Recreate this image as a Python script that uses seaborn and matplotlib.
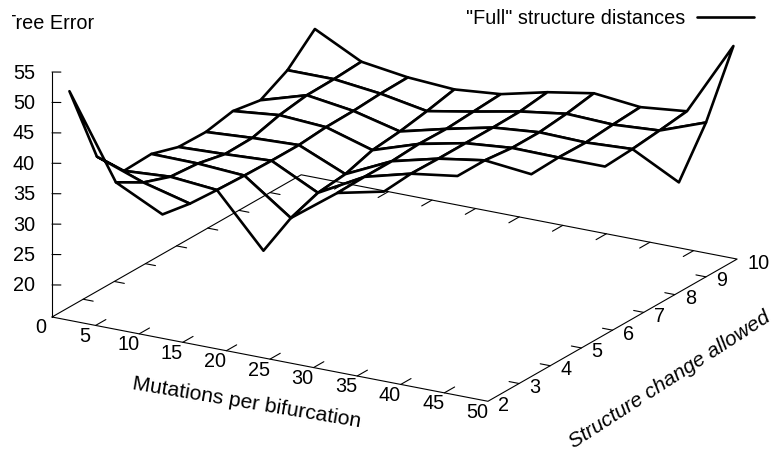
import numpy as np
import matplotlib
matplotlib.use("Agg")
import matplotlib.pyplot as plt
import seaborn as sns
from matplotlib.lines import Line2D
from matplotlib.transforms import Bbox
from mpl_toolkits.mplot3d import proj3d
from mpl_toolkits.mplot3d.art3d import Poly3DCollection

n = np.nan

# grid of the surface
mutations = [2.0, 7.33, 12.67, 18.0, 23.33, 28.67, 34.0, 39.33, 44.67, 50.0]
structure = [2.0, 2.88, 3.75, 4.63, 5.5, 6.38, 7.25, 8.13, 9.0, 9.88]

# tree error, one row per structure value
err_0 = [52.4, 38.9, 35.1, n, n, n, n, n, n, n]
err_1 = [39.1, 36.3, 34.3, n, n, n, n, n, n, n]
err_2 = [34.2, 34.7, 34.0, 25.5, n, n, n, n, n, n]
err_3 = [34.4, 34.3, 33.8, 28.3, 33.9, 35.6, n, n, n, n]
err_4 = [33.0, 33.3, 33.7, 29.9, 34.0, 36.0, 37.1, n, n, n]
err_5 = [32.9, 33.4, 33.7, 30.4, 34.0, 35.9, 37.1, 36.3, n, n]
err_6 = [33.8, 34.6, 34.1, 31.8, 34.3, 35.9, 36.6, 36.5, 36.5, n]
err_7 = [33.0, 35.3, 34.2, 32.3, 34.2, 35.9, 36.6, 36.4, 36.8, 32.8]
err_8 = [35.4, 35.4, 34.5, 33.1, 34.5, 36.0, 37.1, 36.8, 37.3, 40.1]
err_9 = [39.6, 35.7, 34.6, 34.1, 34.8, 36.6, 37.9, 37.1, 37.9, 50.1]

x_ticks = [0, 5, 10, 15, 20, 25, 30, 35, 40, 45, 50]
y_ticks = [2, 3, 4, 5, 6, 7, 8, 9, 10]
z_ticks = [20, 25, 30, 35, 40, 45, 50, 55]

sns.set_theme(style="white", rc={"font.family": "Liberation Sans", "text.color": "black"})

W, H = 774, 456
fs = 14.3
z_base = 14.73

fig = plt.figure(figsize=(W / 100, H / 100), dpi=100)
ax = fig.add_axes([0, 0, 1, 1], projection="3d", proj_type="ortho", computed_zorder=False)
ax.set_axis_off()
ax.view_init(elev=19.4, azim=-59.8)
ax.set_xlim(0, 50, view_margin=0)
ax.set_ylim(2, 10, view_margin=0)
ax.set_zlim(z_base, 55, view_margin=0)
aspect = (503, 494, 259)


def screen(x, y, z):
    xp, yp, _ = proj3d.proj_transform(x, y, z, ax.get_proj())
    return ax.transData.transform((xp, yp))


# fit the box onto the canvas
ax.set_box_aspect(aspect)
fig.canvas.draw()
a = screen(0, 2, z_base)
b = screen(50, 2, z_base)
ax.set_box_aspect(aspect, zoom=np.hypot(436, 84) / np.hypot(*(b - a)))
fig.canvas.draw()
a = screen(0, 2, z_base)
ax.set_position([(52 - a[0]) / W, (H - 318 - a[1]) / H, 1, 1])
fig.canvas.draw()


def line(xs, ys, zs):
    # base shows through the surface cells in the reference, so it goes on top
    ax.plot(xs, ys, zs, color="black", lw=0.8, clip_on=False, zorder=3)


def label(x, y, z, s, dx, dy, ha="center"):
    xp, yp, _ = proj3d.proj_transform(x, y, z, ax.get_proj())
    ax.annotate(s, (xp, yp), xytext=(dx, dy), textcoords="offset pixels", ha=ha, va="center",
                fontsize=fs, annotation_clip=False)


# base rectangle and z axis
line([0, 50, 50, 0, 0], [2, 2, 10, 10, 2], [z_base] * 5)
line([0, 0], [2, 2], [z_base, 55])

for t in x_ticks:
    if 0 < t < 50:
        line([t, t], [2, 2.33], [z_base, z_base])
        line([t, t], [10, 9.67], [z_base, z_base])
    label(t, 2, z_base, str(t), -11, -10)
for t in y_ticks:
    if 2 < t < 10:
        line([0, 1.15], [t, t], [z_base, z_base])
        line([50, 48.85], [t, t], [z_base, z_base])
    label(50, t, z_base, str(t), 10, -3, ha="left")
for t in z_ticks:
    line([0, 0.77], [2, 2.07], [t, t])
    label(0, 2, t, str(t), -17, 0, ha="right")

# surface, white cells hide the far side of the mesh
err = np.array([err_0, err_1, err_2, err_3, err_4, err_5, err_6, err_7, err_8, err_9])
cells = []
for j in range(len(structure) - 1):
    for i in range(len(mutations) - 1):
        corners = [(i, j), (i + 1, j), (i + 1, j + 1), (i, j + 1)]
        if not any(np.isnan(err[q, p]) for p, q in corners):
            cells.append([(mutations[p], structure[q], err[q, p]) for p, q in corners])

mesh = Poly3DCollection(cells, facecolor="white", edgecolor="black", linewidth=1.9, zorder=2)
mesh.set_clip_on(False)
ax.add_collection3d(mesh)

# the reference loses the left part of the T
title = fig.text(4 / W, 1 - 24 / H, "Tree Error", fontsize=fs, ha="left", va="center")
title.set_clip_on(True)
title.set_clip_box(Bbox([[12, 0], [W, H]]))

fig.text(247 / W, 1 - 403 / H, "Mutations per bifurcation", fontsize=15.2, rotation=-9.5,
         ha="center", va="center", rotation_mode="anchor")
fig.text(670 / W, 1 - 380 / H, "Structure change allowed", fontsize=15, style="italic", rotation=33,
         ha="center", va="center", rotation_mode="anchor")

key = Line2D([], [], color="black", lw=1.9)
fig.legend([key], ['"Full" structure distances'], loc="center right", bbox_to_anchor=(754 / W, 1 - 19 / H),
           frameon=False, markerfirst=False, fontsize=fs, handlelength=2.85, handletextpad=0.6,
           borderpad=0, borderaxespad=0)

fig.savefig("out.png", dpi=100)
